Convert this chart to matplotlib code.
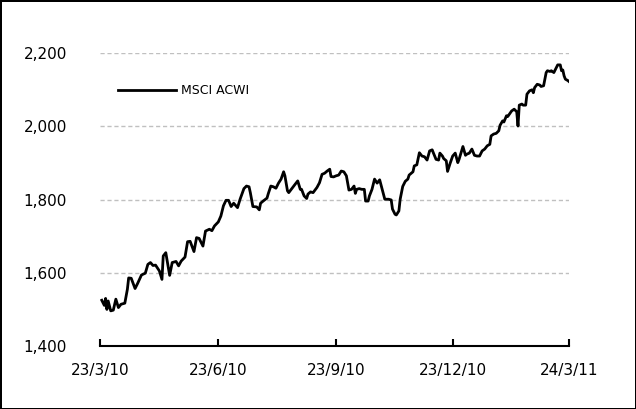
import datetime as dt

import numpy as np
import matplotlib
matplotlib.use("Agg")
import matplotlib.pyplot as plt
import matplotlib.dates as mdates

# MSCI ACWI (days after 23/3/10, index level)
start = dt.date(2010, 3, 23)
day_offsets = [
    1, 3, 4, 5, 6, 8, 10, 12, 14, 16, 19, 21, 22, 24, 27, 29, 32, 35, 37, 39,
    41, 43, 46, 48, 49, 51, 54, 56, 59, 61, 63, 66, 68, 70, 73, 75, 77, 80, 82, 85,
    87, 89, 92, 94, 96, 98, 100, 102, 104, 107, 109, 112, 114, 116, 117, 119, 122, 124, 125, 127,
    130, 131, 133, 135, 137, 139, 141, 143, 144, 146, 147, 150, 152, 154, 156, 157, 159, 161, 162, 164,
    166, 169, 171, 173, 175, 177, 179, 180, 182, 184, 186, 188, 190, 192, 194, 196, 198, 199, 200, 202,
    204, 206, 207, 209, 210, 212, 214, 216, 218, 220, 222, 225, 227, 228, 230, 231, 233, 234, 236, 238,
    240, 241, 244, 245, 247, 249, 251, 253, 255, 257, 259, 260, 262, 264, 265, 267, 268, 270, 271, 273,
    275, 277, 279, 280, 282, 283, 285, 286, 288, 290, 292, 294, 296, 298, 300, 302, 304, 305, 307, 309,
    311, 312, 314, 315, 317, 318, 321, 323, 325, 326, 327, 329, 330, 332, 333, 335, 337, 338, 339, 341,
    343, 344, 346, 348, 349, 351, 352, 354, 356, 357, 359, 360, 361, 362, 363, 365, 366,
]
values = [
    1525, 1511, 1530, 1500, 1523, 1496, 1498, 1528, 1505, 1514, 1517, 1555, 1586, 1585, 1557, 1571, 1594, 1599, 1623, 1628,
    1620, 1621, 1605, 1582, 1646, 1655, 1593, 1628, 1631, 1619, 1632, 1643, 1685, 1686, 1658, 1696, 1694, 1673, 1714, 1719,
    1715, 1728, 1739, 1755, 1783, 1798, 1798, 1781, 1790, 1778, 1801, 1830, 1837, 1835, 1819, 1781, 1780, 1772, 1790, 1796,
    1804, 1816, 1837, 1835, 1831, 1845, 1856, 1876, 1865, 1824, 1819, 1833, 1842, 1851, 1828, 1828, 1810, 1803, 1815, 1821,
    1819, 1833, 1846, 1869, 1872, 1878, 1883, 1863, 1862, 1865, 1867, 1878, 1876, 1865, 1826, 1828, 1837, 1817, 1828, 1830,
    1828, 1828, 1796, 1796, 1810, 1828, 1856, 1845, 1854, 1828, 1801, 1801, 1799, 1774, 1760, 1758, 1769, 1801, 1836, 1850,
    1856, 1867, 1876, 1892, 1895, 1928, 1919, 1917, 1908, 1933, 1936, 1927, 1910, 1908, 1927, 1919, 1912, 1906, 1877, 1899,
    1919, 1927, 1901, 1910, 1933, 1945, 1921, 1924, 1927, 1938, 1921, 1919, 1919, 1933, 1938, 1947, 1951, 1974, 1979, 1981,
    1988, 2003, 2015, 2012, 2029, 2027, 2042, 2047, 2040, 2001, 2058, 2061, 2058, 2058, 2088, 2097, 2100, 2092, 2106, 2115,
    2113, 2109, 2111, 2147, 2152, 2150, 2152, 2147, 2161, 2168, 2168, 2152, 2154, 2138, 2129, 2125, 2122,
]
series_name = "MSCI ACWI"
tick_dates = [dt.date(2010, 3, 23), dt.date(2010, 6, 23), dt.date(2010, 9, 23),
              dt.date(2010, 12, 23), dt.date(2011, 3, 24)]
y_ticks = [1400, 1600, 1800, 2000, 2200]

dates = [start + dt.timedelta(days=d) for d in day_offsets]

fig = plt.figure(figsize=(6.36, 4.09), dpi=100, linewidth=2, edgecolor="black")
ax = fig.add_axes([0.158, 0.154, 0.737, 0.716])

ax.plot(dates, values, color="black", lw=2, label=series_name, solid_joinstyle="round")

ax.set_xlim(tick_dates[0], tick_dates[-1])
ax.set_ylim(1400, 2200)
ax.set_xticks(tick_dates)
ax.xaxis.set_major_formatter(
    plt.FuncFormatter(lambda v, p: "{d.day}/{d.month}/{y}".format(
        d=mdates.num2date(v), y=mdates.num2date(v).strftime("%y"))))
ax.set_yticks(y_ticks)
ax.set_yticklabels([f"{v:,}" for v in y_ticks])

for y in y_ticks[1:]:
    ax.axhline(y, color="#c0c0c0", lw=1, ls=(0, (3, 2)), zorder=0)

for s in ["top", "right", "left"]:
    ax.spines[s].set_visible(False)
ax.spines["bottom"].set_linewidth(1.5)

ax.tick_params(axis="x", direction="in", length=5, width=1.5, pad=12, labelsize=11)
ax.tick_params(axis="y", length=0, pad=24, labelsize=11)

ax.legend(frameon=False, fontsize=9, handlelength=4.7, handletextpad=0.4,
          loc="center left", bbox_to_anchor=(0.185, 0.778),
          bbox_transform=fig.transFigure, borderpad=0, borderaxespad=0)

fig.savefig("out.png", dpi=100)
